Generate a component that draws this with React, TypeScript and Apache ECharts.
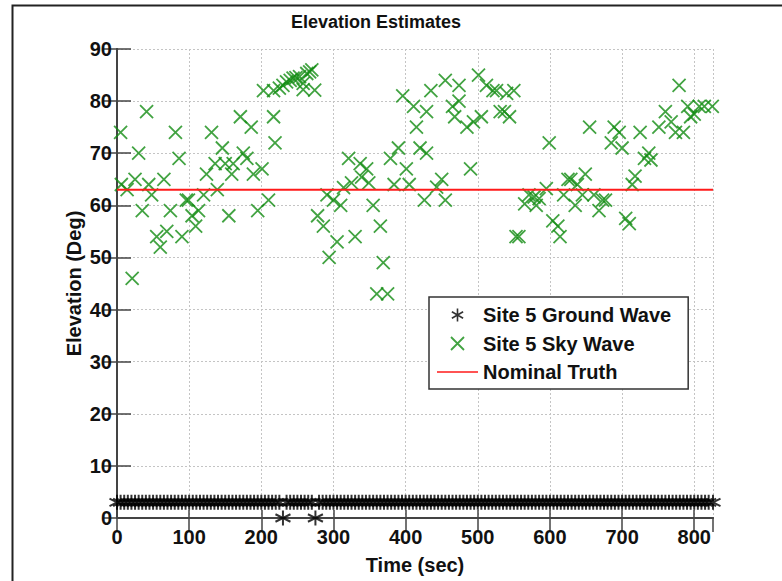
import React, { useEffect, useRef } from "react";
import * as echarts from "echarts";

// ---------- data ----------
const groundTimes = [
  0, 5, 10, 15, 20, 25, 30, 35, 40, 45, 50, 55, 60, 65, 70, 75, 80, 85, 90, 95,
  100, 105, 110, 115, 120, 125, 130, 135, 140, 145, 150, 155, 160, 165, 170, 175, 180, 185, 190, 195,
  200, 205, 210, 215, 220, 225, 230, 235, 240, 245, 250, 255, 260, 265, 270, 275, 280, 285, 290, 295,
  300, 305, 310, 315, 320, 325, 330, 335, 340, 345, 350, 355, 360, 365, 370, 375, 380, 385, 390, 395,
  400, 405, 410, 415, 420, 425, 430, 435, 440, 445, 450, 455, 460, 465, 470, 475, 480, 485, 490, 495,
  500, 505, 510, 515, 520, 525, 530, 535, 540, 545, 550, 555, 560, 565, 570, 575, 580, 585, 590, 595,
  600, 605, 610, 615, 620, 625, 630, 635, 640, 645, 650, 655, 660, 665, 670, 675, 680, 685, 690, 695,
  700, 705, 710, 715, 720, 725, 730, 735, 740, 745, 750, 755, 760, 765, 770, 775, 780, 785, 790, 795,
  800, 805, 810, 815, 820, 826,
];
const groundLevel = 3;
const groundDropTimes = [230, 275];

const skyTimes = [
  5, 6, 14, 21, 25, 30, 35, 41, 44, 48, 55, 60, 65, 69, 74, 81, 86, 90, 96, 99,
  104, 109, 113, 120, 124, 131, 136, 139, 146, 150, 155, 159, 161, 171, 175, 180, 186, 189, 195, 201,
  203, 210, 217, 217, 219, 225, 230, 235, 240, 244, 248, 253, 258, 258, 263, 267, 270, 274, 278, 286,
  291, 294, 300, 305, 310, 314, 321, 325, 330, 337, 339, 346, 349, 355, 360, 365, 369, 375, 379, 384,
  390, 396, 401, 405, 411, 415, 420, 426, 429, 429, 435, 443, 450, 455, 455, 465, 468, 474, 474, 485,
  490, 494, 501, 505, 512, 521, 526, 531, 537, 540, 544, 550, 553, 557, 565, 571, 578, 581, 585, 595,
  599, 604, 611, 614, 619, 625, 629, 635, 638, 645, 649, 655, 661, 668, 673, 677, 685, 689, 696, 700,
  705, 710, 714, 718, 725, 731, 737, 740, 751, 760, 768, 774, 779, 785, 791, 795, 800, 807, 814, 825,
];
const skyElev = [
  74, 64, 63, 46, 65, 70, 59, 78, 64, 62, 54, 52, 65, 55, 59, 74, 69, 54, 61, 61,
  58, 56, 59, 62, 66, 74, 68, 63, 71, 68, 58, 66, 68, 77, 70, 69, 75, 66, 59, 67,
  82, 61, 82, 77, 72, 82.5, 83, 83.7, 84, 84.4, 84.5, 84.7, 83.4, 82.2, 85.3, 85.6, 86, 82.1, 58, 56,
  62, 50, 61, 53, 60, 63.4, 69, 64.3, 54, 68, 65.4, 67, 64.3, 60, 43, 56, 49, 43, 69, 64,
  71, 81, 67, 64, 79, 75, 71, 61, 78, 70, 82, 63.5, 65, 84, 61, 79, 77, 83, 80, 75,
  67, 76, 85, 77, 83, 82, 82, 78, 78, 81.5, 77, 82, 54, 54, 60.3, 62, 61.6, 60, 61.3, 63.2,
  72, 57, 56, 54, 62, 65, 65, 60, 64, 62, 66, 75, 62, 59, 61, 61, 72, 75, 74, 71,
  57.5, 56.5, 64, 65.6, 74, 69, 70, 68.7, 75, 78, 76, 74, 83, 74, 79, 77, 77.5, 79, 79, 79,
];

const nominalTimes = [0, 826];
const nominalElev = [63, 63];

const xTicks = [0, 100, 200, 300, 400, 500, 600, 700, 800];
const yTicks = [0, 10, 20, 30, 40, 50, 60, 70, 80, 90];

const seriesNames = ["Site 5 Ground Wave", "Site 5 Sky Wave", "Nominal Truth"];

// ---------- styles ----------
const FONT = "'Liberation Sans', Arial, Helvetica, sans-serif";
const GREEN = "#138c13";
const RED = "#ff1a1a";
const X_PATH = "path://M0,0L10,10M10,0L0,10";
const STAR_PATH = "path://M5,0L5,10M0.67,2.5L9.33,7.5M0.67,7.5L9.33,2.5";
const LINE_ICON = "path://M0,0L40,0L40,1.6L0,1.6Z";

export default function App() {
  const ref = useRef<HTMLDivElement>(null);

  useEffect(() => {
    if (!ref.current) return;
    const chart = echarts.init(ref.current, null, { renderer: "svg" });

    const groundData = groundTimes.map((t) => [t, groundDropTimes.includes(t) ? 0 : groundLevel]);
    const skyData = skyTimes.map((t, i) => [t, skyElev[i]]);
    const nominalData = nominalTimes.map((t, i) => [t, nominalElev[i]]);

    const xMin = xTicks[0];
    const xMax = 826;
    const yMin = yTicks[0];
    const yMax = yTicks[yTicks.length - 1];

    const axisLineStyle = { color: "#444", width: 2 };
    const tickStyle = { color: "#444", width: 1.5 };
    const labelStyle = { fontFamily: FONT, fontSize: 20, fontWeight: "bold", color: "#111" };

    chart.setOption({
      animation: false,
      backgroundColor: "#ffffff",
      title: {
        text: "Elevation Estimates",
        left: 286,
        top: 8,
        textStyle: { ...labelStyle, fontSize: 18 },
      },
      grid: { left: 117, right: 69, top: 49, bottom: 63, containLabel: false },
      xAxis: [
        {
          type: "value",
          min: xMin,
          max: xMax,
          interval: 100,
          position: "bottom",
          name: "Time (sec)",
          nameLocation: "middle",
          nameGap: 37,
          nameMoveOverlap: false,
          nameTextStyle: labelStyle,
          axisLine: { show: true, lineStyle: axisLineStyle },
          axisTick: { show: true, inside: true, length: 8, lineStyle: tickStyle },
          axisLabel: { ...labelStyle, margin: 9, showMaxLabel: false },
          splitLine: { show: true, lineStyle: { color: "#c4c4c4", width: 1, type: [2, 2] } },
        },
        {
          type: "value",
          min: xMin,
          max: xMax,
          interval: 100,
          position: "top",
          axisLine: { show: true, lineStyle: axisLineStyle },
          axisTick: { show: true, inside: true, length: 14, lineStyle: tickStyle },
          axisLabel: { show: false },
          splitLine: { show: false },
        },
      ],
      yAxis: [
        {
          type: "value",
          min: yMin,
          max: yMax,
          interval: 10,
          position: "left",
          name: "Elevation (Deg)",
          nameLocation: "middle",
          nameGap: 33,
          nameMoveOverlap: false,
          nameRotate: 90,
          nameTextStyle: labelStyle,
          axisLine: { show: true, lineStyle: axisLineStyle },
          axisTick: { show: true, inside: true, length: 14, lineStyle: tickStyle },
          axisLabel: { ...labelStyle, margin: 5 },
          splitLine: { show: true, lineStyle: { color: "#c4c4c4", width: 1, type: [2, 2] } },
        },
        {
          type: "value",
          min: yMin,
          max: yMax,
          interval: 10,
          position: "right",
          axisLine: { show: true, lineStyle: axisLineStyle },
          axisTick: { show: true, inside: true, length: 14, lineStyle: tickStyle },
          axisLabel: { show: false },
          splitLine: { show: false },
        },
      ],
      legend: {
        orient: "vertical",
        left: 429,
        top: 297,
        padding: [8, 17, 7, 8],
        itemGap: 8.5,
        itemWidth: 41,
        itemHeight: 13,
        backgroundColor: "#ffffff",
        borderColor: "#333",
        borderWidth: 1.5,
        borderRadius: 0,
        textStyle: labelStyle,
        data: [
          {
            name: seriesNames[0],
            icon: STAR_PATH,
            itemStyle: { color: "transparent", borderColor: "#000", borderWidth: 1.6 },
          },
          {
            name: seriesNames[1],
            icon: X_PATH,
            itemStyle: { color: "transparent", borderColor: GREEN, borderWidth: 1.8 },
          },
          {
            name: seriesNames[2],
            icon: LINE_ICON,
            itemStyle: { color: RED, borderWidth: 0 },
          },
        ],
      },
      series: [
        {
          name: seriesNames[0],
          type: "scatter",
          data: groundData,
          symbol: STAR_PATH,
          symbolSize: 15,
          clip: false,
          itemStyle: { color: "transparent", borderColor: "#000", borderWidth: 2 },
          z: 2,
        },
        {
          name: seriesNames[1],
          type: "scatter",
          data: skyData,
          symbol: X_PATH,
          symbolSize: 13,
          clip: false,
          itemStyle: { color: "transparent", borderColor: GREEN, borderWidth: 1.8 },
          z: 3,
        },
        {
          name: seriesNames[2],
          type: "line",
          data: nominalData,
          symbol: "none",
          showSymbol: false,
          lineStyle: { color: RED, width: 2 },
          itemStyle: { color: RED },
          z: 4,
        },
      ],
      graphic: [
        {
          type: "rect",
          left: 10,
          top: 3,
          shape: { width: 800, height: 620 },
          style: { fill: "none", stroke: "#222", lineWidth: 2 },
          silent: true,
          z: -10,
        },
      ],
    });

    return () => chart.dispose();
  }, []);

  return (
    <div
      ref={ref}
      style={{ position: "absolute", left: 0, top: 0, width: 782, height: 581, background: "#fff" }}
    />
  );
}
